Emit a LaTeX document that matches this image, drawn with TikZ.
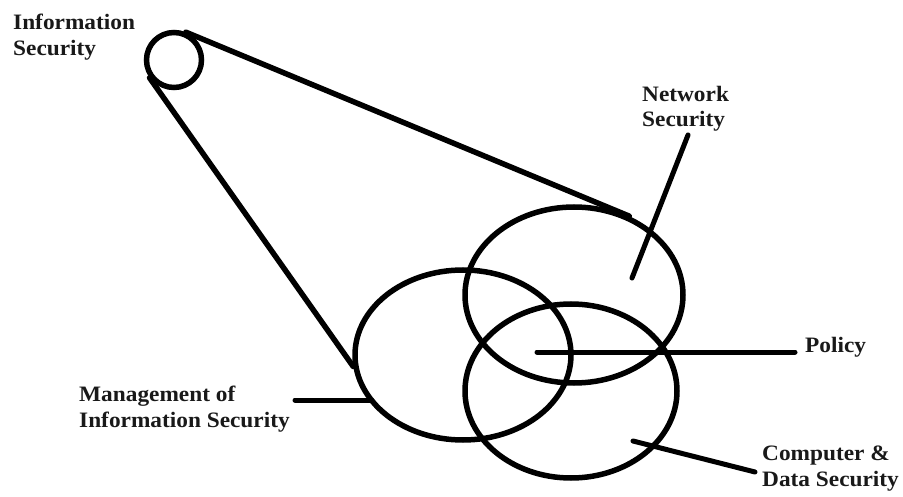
\documentclass[tikz,border=0pt]{standalone}
\usepackage{fontspec}
\setmainfont{Liberation Serif}[FakeStretch=1.06]
\usetikzlibrary{shapes.geometric}
\begin{document}
\begin{tikzpicture}[x=1pt,y=-1pt,
  ring/.style={draw, line width=5.5pt, inner sep=0pt},
  leader/.style={line width=5pt, line cap=round},
  tline/.style={line width=5.5pt, line cap=round},
  lbl/.style={font=\fontsize{22}{25.5}\selectfont\bfseries, align=left, inner sep=0pt, anchor=north west, text=black!90}]
\useasboundingbox (0,0) rectangle (903,497);
% circles / ellipses
\node[ring, circle, minimum size=55pt] (info) at (174,60) {};
\node[ring, ellipse, minimum width=218pt, minimum height=176pt] (net) at (574,295) {};
\node[ring, ellipse, minimum width=216pt, minimum height=170pt] (mgmt) at (463,355) {};
\node[ring, ellipse, minimum width=212pt, minimum height=174pt] (comp) at (571,391) {};
% tangent lines
\draw[tline] (info.67) -- (net.55);
\draw[tline] (info.216) -- (mgmt.186);
% labels
\node[lbl] (infolbl) at (13,14) {Information\\Security};
\node[lbl] (netlbl) at (642,86) {Network\\Security};
\node[lbl] (pollbl) at (805,337) {Policy};
\node[lbl] (mgmtlbl) at (79,386) {Management of\\Information Security};
\node[lbl] (complbl) at (762,446) {Computer \&\\Data Security};
% leader lines
\coordinate (n1) at (688,135); \coordinate (n2) at (632,278);
\coordinate (p1) at (537,352); \coordinate (p2) at (795,352);
\coordinate (m1) at (295,400); \coordinate (m2) at (372,400);
\coordinate (c1) at (633,441); \coordinate (c2) at (755,472);
\draw[leader] (n1) -- (n2);
\draw[leader] (p1) -- (p2);
\draw[leader] (m1) -- (m2);
\draw[leader] (c1) -- (c2);
\end{tikzpicture}
\end{document}
